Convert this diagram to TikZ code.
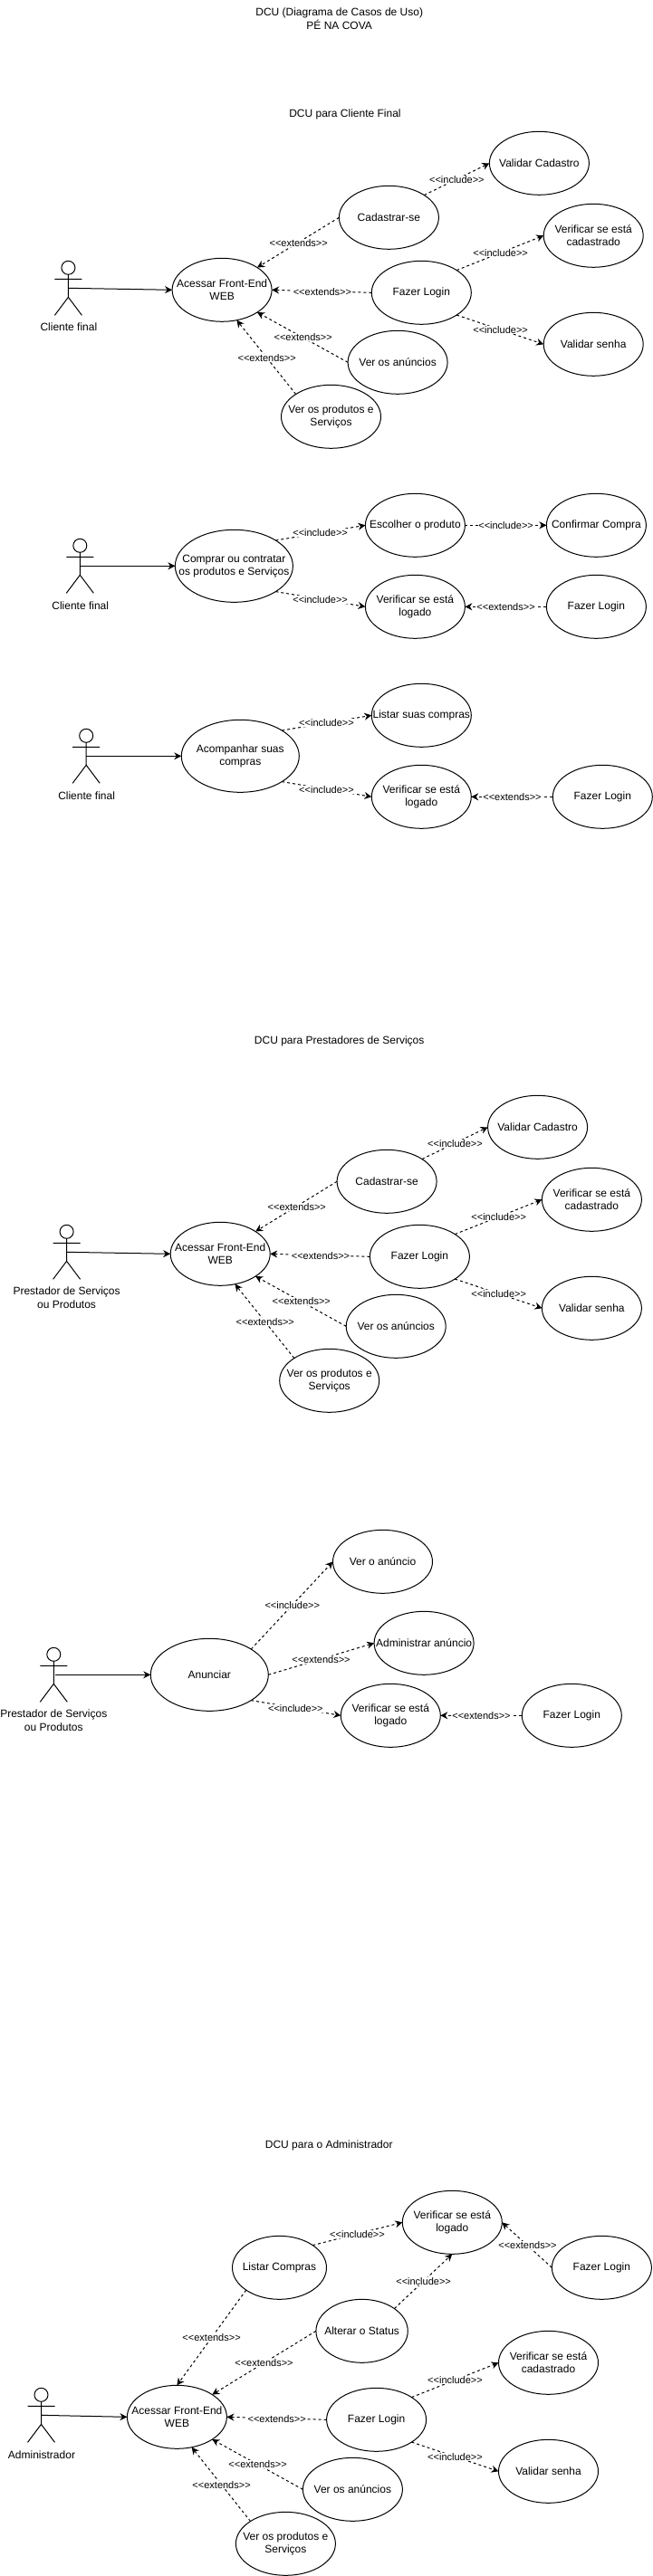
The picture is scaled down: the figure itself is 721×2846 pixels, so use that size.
\documentclass[tikz,border=0pt]{standalone}
\usepackage{fontspec}
\setmainfont{Liberation Sans}
\usetikzlibrary{shapes.geometric,arrows.meta}
\newcommand{\incl}{<{}<include>{}>}
\newcommand{\extd}{<{}<extends>{}>}
\tikzset{
	uc/.style={ellipse,draw,line width=0.75pt,outer sep=0pt,minimum width=82.5pt,minimum height=52.5pt,inner xsep=-25pt,inner ysep=-10pt,align=center,font=\fontsize{9}{10.8}\selectfont},
	ucbig/.style={uc,minimum width=97.5pt,minimum height=60pt},
	txt/.style={align=center,inner sep=0pt,font=\fontsize{9}{10.8}\selectfont},
	lbl/.style={fill=white,inner sep=0.5pt,font=\fontsize{8.25}{9.9}\selectfont},
	assoc/.style={line width=0.75pt,-{Stealth[length=6pt,width=6pt]}},
	dep/.style={assoc,dash pattern=on 2.25pt off 2.25pt},
	actor/.pic={
		\draw[line width=0.75pt] (0,7.5) circle (7.5);
		\draw[line width=0.75pt] (0,15)--(0,40) (-15,20)--(15,20) (-15,60)--(0,40)--(15,60);
		\coordinate (-hand) at (0,30);
	}
}
\begin{document}
\begin{tikzpicture}[x=0.75pt,y=-0.75pt]
	\useasboundingbox (0,0) rectangle (721,2846);
	\node[txt] at (374.7,20.8) (main_title) {DCU (Diagrama de Casos de Uso)\\PÉ NA COVA};

	% cliente final: front-end
	\node[txt] at (381,126) (cf_title) {DCU para Cliente Final};
	\pic (cf_actor) at (75.4,288.3) {actor};
	\node[txt] at (75.9,361.7) (cf_name) {Cliente final};
	\node[uc] at (245.1,320.3) (cf_acessar) {Acessar Front-End\\WEB};
	\node[uc] at (429.4,240.3) (cf_cadastrar) {Cadastrar-se};
	\node[uc] at (595.4,180.3) (cf_validar) {Validar Cadastro};
	\node[uc] at (465.3,323.3) (cf_login) {Fazer Login};
	\node[uc] at (655.2,260.3) (cf_verificar) {Verificar se está\\cadastrado};
	\node[uc] at (655.2,380.3) (cf_senha) {Validar senha};
	\node[uc] at (439.1,400.3) (cf_anuncios) {Ver os anúncios};
	\node[uc] at (365.5,460.3) (cf_produtos) {Ver os produtos e\\Serviços};
	\draw[assoc] (cf_actor-hand)--(cf_acessar.west);
	\draw[dep] (cf_cadastrar.west)--(cf_acessar.north east);
	\draw[dep] (cf_cadastrar.north east)--(cf_validar.west);
	\draw[dep] (cf_login.north east)--(cf_verificar.west);
	\draw[dep] (cf_login.west)--(cf_acessar.east);
	\draw[dep] (cf_login.south east)--(cf_senha.west);
	\draw[dep] (cf_anuncios.west)--(cf_acessar.south east);
	\draw[dep] (cf_produtos.north west)--(cf_acessar.-64);
	\node[lbl] at (329.7,268.3) (cf_l1) {\extd};
	\node[lbl] at (504.4,198.3) (cf_l2) {\incl};
	\node[lbl] at (552.6,279.3) (cf_l3) {\incl};
	\node[lbl] at (355.9,322.3) (cf_l4) {\extd};
	\node[lbl] at (552.6,364.3) (cf_l5) {\incl};
	\node[lbl] at (334.7,372.3) (cf_l6) {\extd};
	\node[lbl] at (294.7,395.3) (cf_l7) {\extd};

	% cliente final: comprar
	\pic (cc_actor) at (88.3,595.3) {actor};
	\node[txt] at (88.7,669) (cc_name) {Cliente final};
	\node[ucbig] at (258.4,625.3) (cc_comprar) {Comprar ou contratar\\os produtos e Serviços};
	\node[uc] at (458.4,580.3) (cc_escolher) {Escolher o produto};
	\node[uc] at (658.4,580.3) (cc_confirmar) {Confirmar Compra};
	\node[uc] at (458.4,670.3) (cc_verificar) {Verificar se está\\logado};
	\node[uc] at (658.4,670.3) (cc_login) {Fazer Login};
	\draw[assoc] (cc_actor-hand)--(cc_comprar.west);
	\draw[dep] (cc_comprar.north east)--(cc_escolher.west);
	\draw[dep] (cc_comprar.south east)--(cc_verificar.west);
	\draw[dep] (cc_escolher.east)--(cc_confirmar.west);
	\draw[dep] (cc_login.west)--(cc_verificar.east);
	\node[lbl] at (353.6,588.3) (cc_l1) {\incl};
	\node[lbl] at (353.6,662.3) (cc_l2) {\incl};
	\node[lbl] at (558.6,580.3) (cc_l3) {\incl};
	\node[lbl] at (558.6,670.3) (cc_l4) {\extd};

	% cliente final: acompanhar
	\pic (ca_actor) at (95.2,805.3) {actor};
	\node[txt] at (95.6,879) (ca_name) {Cliente final};
	\node[ucbig] at (265.3,835.3) (ca_acompanhar) {Acompanhar suas\\compras};
	\node[uc] at (465.3,790.3) (ca_listar) {Listar suas compras};
	\node[uc] at (465.3,880.3) (ca_verificar) {Verificar se está\\logado};
	\node[uc] at (665.3,880.3) (ca_login) {Fazer Login};
	\draw[assoc] (ca_actor-hand)--(ca_acompanhar.west);
	\draw[dep] (ca_acompanhar.north east)--(ca_listar.west);
	\draw[dep] (ca_acompanhar.south east)--(ca_verificar.west);
	\draw[dep] (ca_login.west)--(ca_verificar.east);
	\node[lbl] at (360.5,798.3) (ca_l1) {\incl};
	\node[lbl] at (360.5,872.3) (ca_l2) {\incl};
	\node[lbl] at (565.5,880.3) (ca_l3) {\extd};

	% prestadores: front-end
	\node[txt] at (374.7,1150.7) (ps_title) {DCU para Prestadores de Serviços};
	\pic (ps_actor) at (73.6,1353.3) {actor};
	\node[txt] at (73.6,1433.7) (ps_name) {Prestador de Serviços\\ou Produtos};
	\node[uc] at (243.2,1385.3) (ps_acessar) {Acessar Front-End\\WEB};
	\node[uc] at (427.1,1305.3) (ps_cadastrar) {Cadastrar-se};
	\node[uc] at (593.6,1245.3) (ps_validar) {Validar Cadastro};
	\node[uc] at (463.4,1388.3) (ps_login) {Fazer Login};
	\node[uc] at (653.4,1325.3) (ps_verificar) {Verificar se está\\cadastrado};
	\node[uc] at (653.4,1445.3) (ps_senha) {Validar senha};
	\node[uc] at (437.2,1465.3) (ps_anuncios) {Ver os anúncios};
	\node[uc] at (363.7,1525.3) (ps_produtos) {Ver os produtos e\\Serviços};
	\draw[assoc] (ps_actor-hand)--(ps_acessar.west);
	\draw[dep] (ps_cadastrar.west)--(ps_acessar.north east);
	\draw[dep] (ps_cadastrar.north east)--(ps_validar.west);
	\draw[dep] (ps_login.north east)--(ps_verificar.west);
	\draw[dep] (ps_login.west)--(ps_acessar.east);
	\draw[dep] (ps_login.south east)--(ps_senha.west);
	\draw[dep] (ps_anuncios.west)--(ps_acessar.south east);
	\draw[dep] (ps_produtos.north west)--(ps_acessar.-64);
	\node[lbl] at (327.8,1333.3) (ps_l1) {\extd};
	\node[lbl] at (502.5,1263.3) (ps_l2) {\incl};
	\node[lbl] at (550.7,1344.3) (ps_l3) {\incl};
	\node[lbl] at (354,1387.3) (ps_l4) {\extd};
	\node[lbl] at (550.7,1429.3) (ps_l5) {\incl};
	\node[lbl] at (332.8,1437.3) (ps_l6) {\extd};
	\node[lbl] at (292.8,1460.3) (ps_l7) {\extd};

	% prestadores: anunciar
	\pic (pa_actor) at (59.3,1820.3) {actor};
	\node[txt] at (59.3,1900.7) (pa_name) {Prestador de Serviços\\ou Produtos};
	\coordinate (pa_hand) at (61.3,1850.3);
	\node[ucbig] at (231.3,1850.3) (pa_anunciar) {Anunciar};
	\node[uc] at (422.5,1725.3) (pa_ver) {Ver o anúncio};
	\node[uc] at (468.1,1815.3) (pa_admin) {Administrar anúncio};
	\node[uc] at (431.3,1895.3) (pa_verificar) {Verificar se está\\logado};
	\node[uc] at (631.3,1895.3) (pa_login) {Fazer Login};
	\draw[assoc] (pa_hand)--(pa_anunciar.west);
	\draw[dep] (pa_anunciar.north east)--(pa_ver.west);
	\draw[dep] (pa_anunciar.east)--(pa_admin.west);
	\draw[dep] (pa_anunciar.south east)--(pa_verificar.west);
	\draw[dep] (pa_login.west)--(pa_verificar.east);
	\node[lbl] at (322.8,1773.7) (pa_l1) {\incl};
	\node[lbl] at (354.5,1833.3) (pa_l2) {\extd};
	\node[lbl] at (326.4,1887.3) (pa_l3) {\incl};
	\node[lbl] at (531.5,1895.3) (pa_l4) {\extd};

	% administrador
	\node[txt] at (363.2,2370.7) (ad_title) {DCU para o Administrador};
	\pic (ad_actor) at (45.5,2638.3) {actor};
	\node[txt] at (46,2711.7) (ad_name) {Administrador};
	\node[uc] at (195.4,2670.3) (ad_acessar) {Acessar Front-End\\WEB};
	\node[uc] at (499.3,2455.3) (ad_logado) {Verificar se está\\logado};
	\node[uc,minimum width=78pt] at (308.5,2505.3) (ad_listar) {Listar Compras};
	\node[uc] at (664.4,2505.3) (ad_login_a) {Fazer Login};
	\node[uc,minimum width=76pt] at (399.6,2575.3) (ad_alterar) {Alterar o Status};
	\node[uc] at (605.5,2610.3) (ad_verificar) {Verificar se está\\cadastrado};
	\node[uc] at (415.6,2673.3) (ad_login_b) {Fazer Login};
	\node[uc] at (605.5,2730.3) (ad_senha) {Validar senha};
	\node[uc] at (389.4,2750.3) (ad_anuncios) {Ver os anúncios};
	\node[uc] at (315.4,2810.3) (ad_produtos) {Ver os produtos e\\Serviços};
	\draw[assoc] (ad_actor-hand)--(ad_acessar.west);
	\draw[dep] (ad_listar.north east)--(ad_logado.west);
	\draw[dep] (ad_alterar.north east)--(ad_logado.south);
	\draw[dep] (ad_login_a.west)--(ad_logado.east);
	\draw[dep] (ad_listar.south west)--(ad_acessar.north);
	\draw[dep] (ad_alterar.west)--(ad_acessar.north east);
	\draw[dep] (ad_login_b.north east)--(ad_verificar.west);
	\draw[dep] (ad_login_b.west)--(ad_acessar.east);
	\draw[dep] (ad_login_b.south east)--(ad_senha.west);
	\draw[dep] (ad_anuncios.west)--(ad_acessar.south east);
	\draw[dep] (ad_produtos.north west)--(ad_acessar.-64);
	\node[lbl] at (394.5,2468.3) (ad_l1) {\incl};
	\node[lbl] at (582.5,2480.3) (ad_l2) {\extd};
	\node[lbl] at (467.6,2520.3) (ad_l3) {\incl};
	\node[lbl] at (233.6,2582.3) (ad_l4) {\extd};
	\node[lbl] at (291.5,2610.3) (ad_l5) {\extd};
	\node[lbl] at (502.5,2629.3) (ad_l6) {\incl};
	\node[lbl] at (305.7,2672.3) (ad_l7) {\extd};
	\node[lbl] at (502.5,2714.3) (ad_l8) {\incl};
	\node[lbl] at (284.6,2722.3) (ad_l9) {\extd};
	\node[lbl] at (244.6,2745.3) (ad_l10) {\extd};
\end{tikzpicture}
\end{document}
